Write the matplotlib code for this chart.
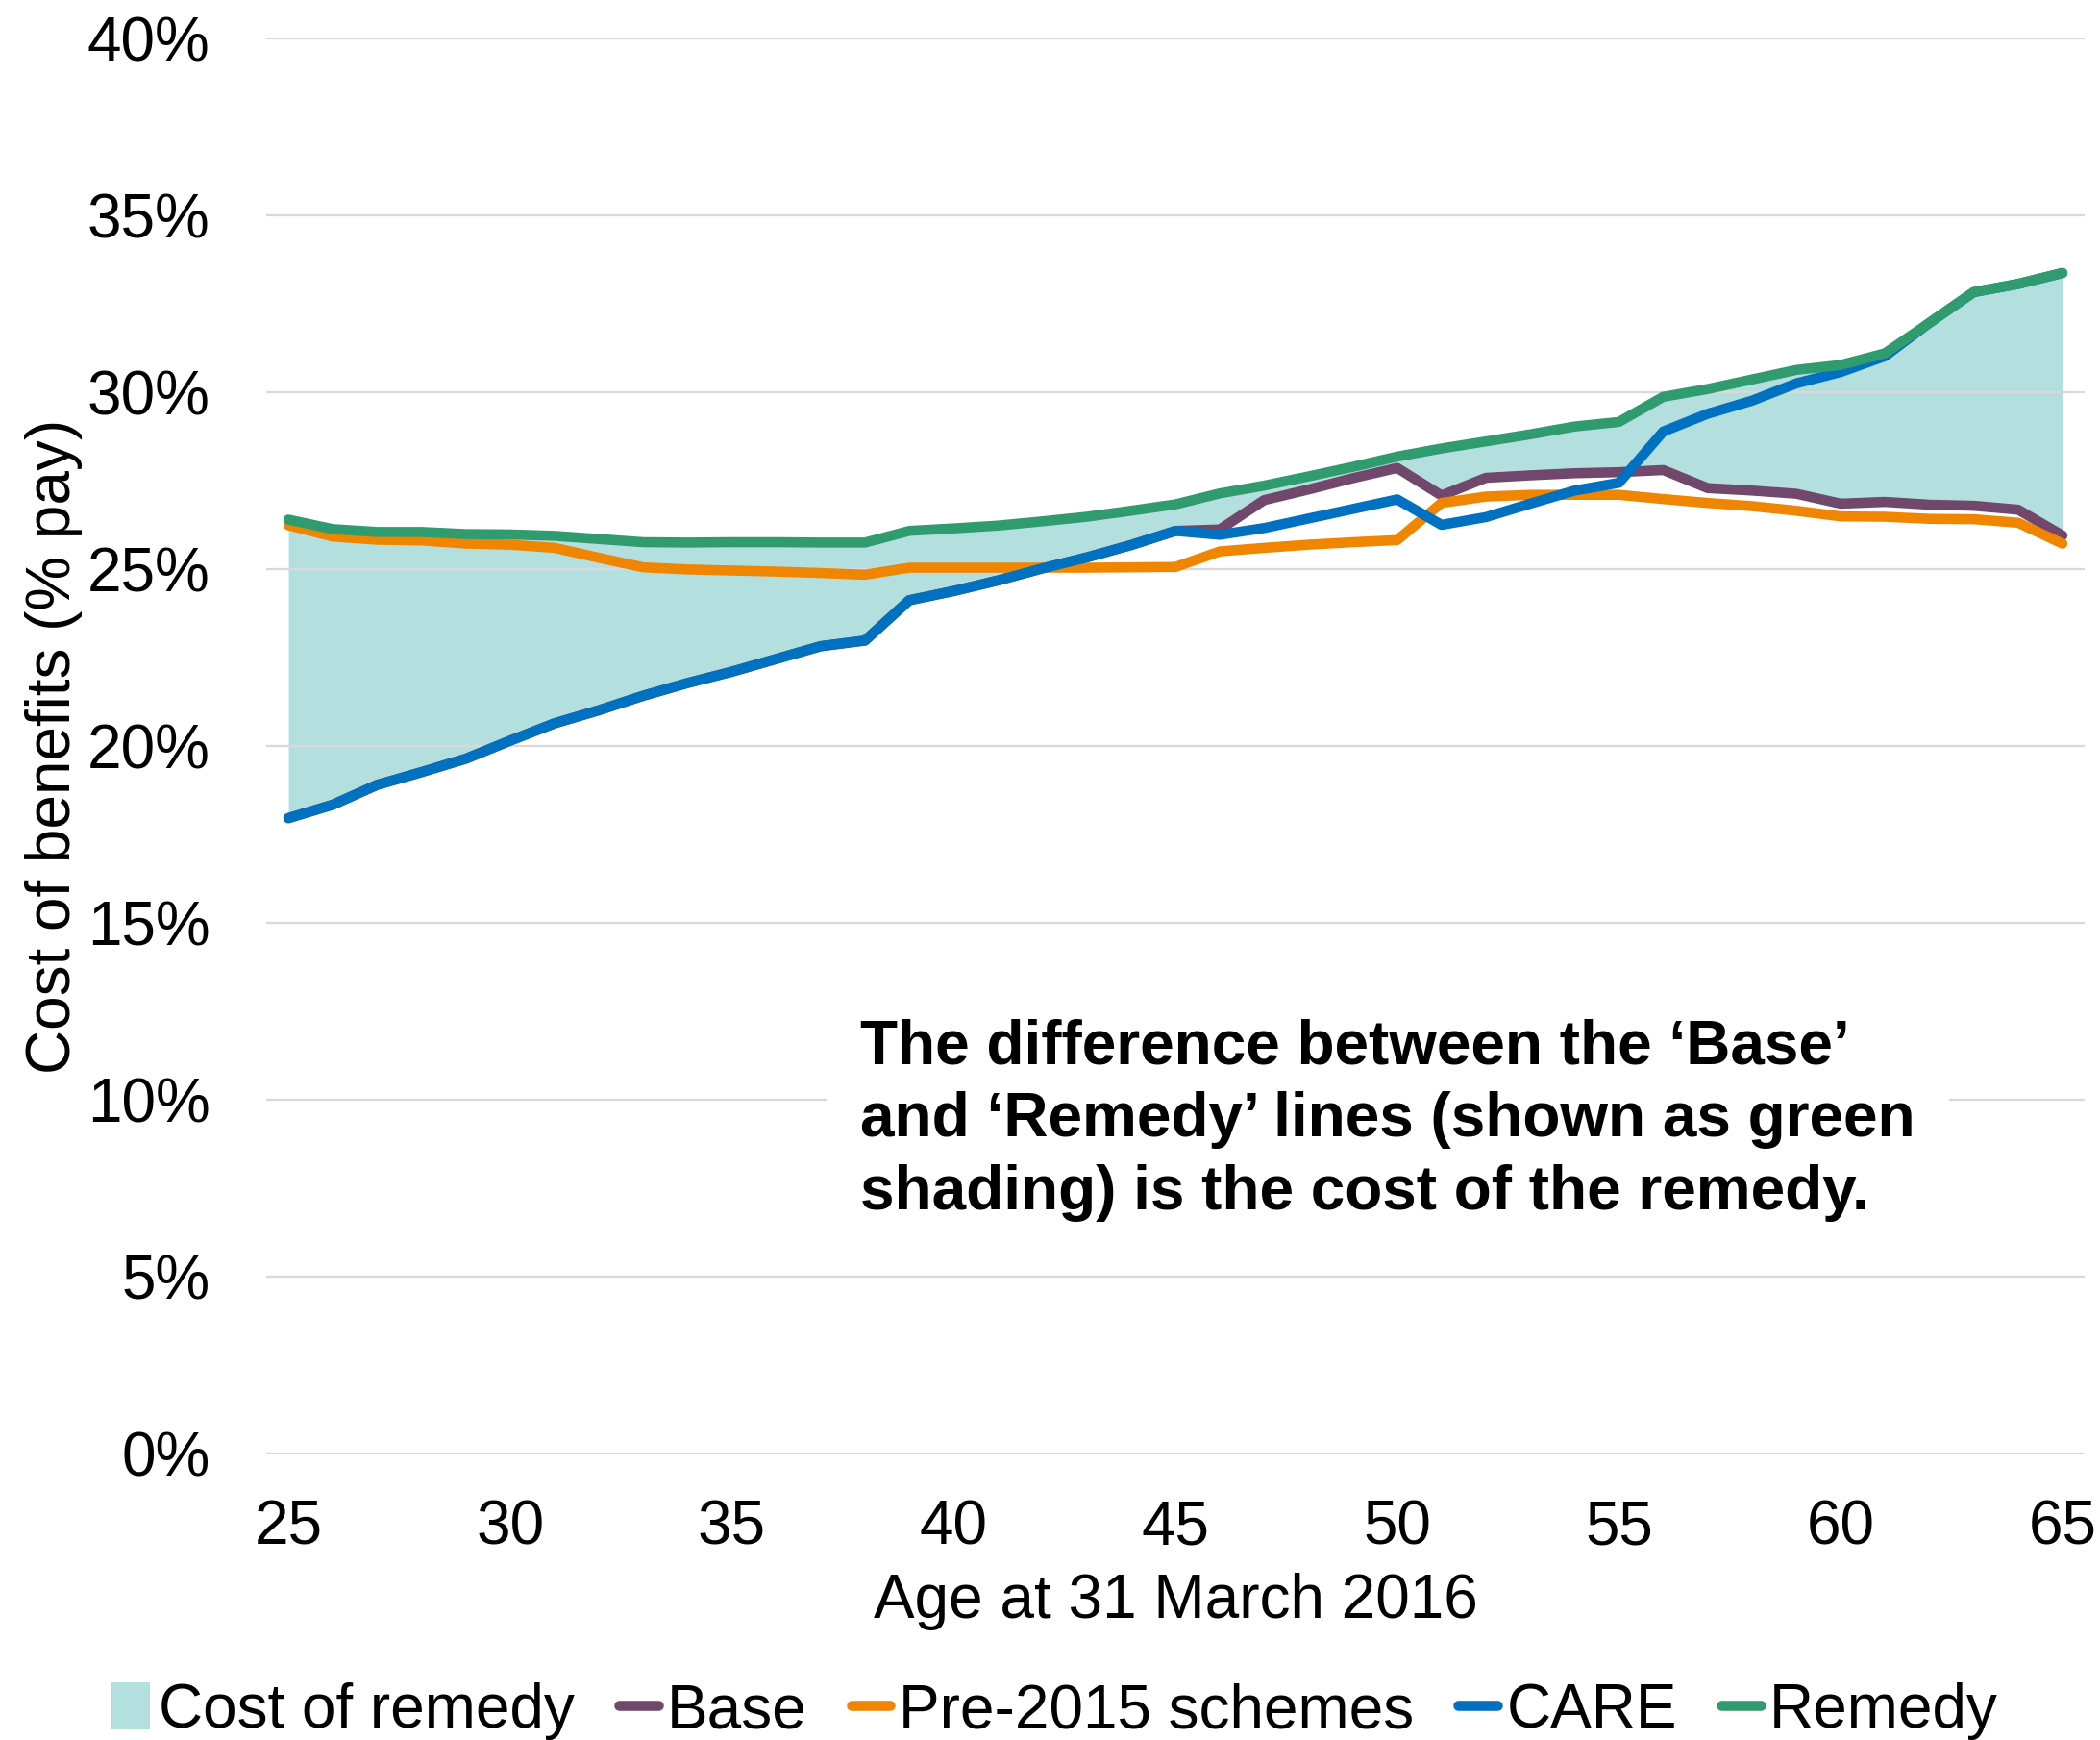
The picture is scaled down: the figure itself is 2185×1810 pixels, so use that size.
import matplotlib
matplotlib.use("Agg")
import matplotlib.pyplot as plt
from matplotlib.patches import Patch
from matplotlib.lines import Line2D

plt.rcParams['font.family'] = ['Liberation Sans', 'DejaVu Sans']

ages = list(range(25, 66))

remedy = [26.40, 26.13, 26.05, 26.05, 25.99, 25.98, 25.94, 25.85, 25.76, 25.75,
          25.76, 25.76, 25.75, 25.75, 26.08, 26.15, 26.23, 26.35, 26.48, 26.65,
          26.83, 27.14, 27.36, 27.62, 27.89, 28.18, 28.41, 28.61, 28.81, 29.03,
          29.16, 29.87, 30.09, 30.36, 30.63, 30.77, 31.10, 31.96, 32.83, 33.06, 33.37]

pre2015 = [26.24, 25.92, 25.83, 25.81, 25.72, 25.69, 25.60, 25.32, 25.05, 24.99,
           24.96, 24.93, 24.89, 24.84, 25.04, 25.04, 25.04, 25.04, 25.04, 25.05,
           25.06, 25.50, 25.60, 25.69, 25.76, 25.82, 26.87, 27.05, 27.10, 27.10,
           27.10, 26.98, 26.87, 26.78, 26.65, 26.49, 26.48, 26.42, 26.41, 26.31, 25.72]

care = [17.96, 18.34, 18.90, 19.26, 19.64, 20.15, 20.64, 21.01, 21.42, 21.78,
        22.10, 22.46, 22.82, 22.98, 24.12, 24.38, 24.68, 25.02, 25.33, 25.68,
        26.08, 25.97, 26.16, 26.43, 26.70, 26.97, 26.25, 26.47, 26.85, 27.22,
        27.44, 28.89, 29.39, 29.76, 30.25, 30.57, 31.02, 31.96, 32.83, 33.06, 33.37]

base = [17.96, 18.34, 18.90, 19.26, 19.64, 20.15, 20.64, 21.01, 21.42, 21.78,
        22.10, 22.46, 22.82, 22.98, 24.12, 24.38, 24.68, 25.02, 25.33, 25.68,
        26.08, 26.12, 26.95, 27.25, 27.57, 27.86, 27.08, 27.58, 27.65, 27.71,
        27.74, 27.80, 27.29, 27.22, 27.13, 26.85, 26.90, 26.82, 26.79, 26.68, 25.95]

x_ticks = [25, 30, 35, 40, 45, 50, 55, 60, 65]
y_ticks = [0, 5, 10, 15, 20, 25, 30, 35, 40]
y_tick_labels = [f"{v}%" for v in y_ticks]

C_FILL = '#B3E0DF'
C_BASE = '#72476C'
C_PRE = '#F08500'
C_CARE = '#0070C0'
C_REM = '#319B70'

FS = 46
LW = 7.6

fig = plt.figure(figsize=(21.85, 18.10), dpi=100)
ax = fig.add_axes([277/2185, 1 - 1512/1810, (2169-277)/2185, (1512-40)/1810])

ax.fill_between(ages, base, remedy, color=C_FILL, linewidth=0, zorder=1)
ax.plot(ages, base, color=C_BASE, lw=LW, solid_capstyle='round', solid_joinstyle='round', zorder=2)
ax.plot(ages, pre2015, color=C_PRE, lw=LW, solid_capstyle='round', solid_joinstyle='round', zorder=2.1)
ax.plot(ages, care, color=C_CARE, lw=LW, solid_capstyle='round', solid_joinstyle='round', zorder=2.2)
ax.plot(ages, remedy, color=C_REM, lw=LW, solid_capstyle='round', solid_joinstyle='round', zorder=2.3)

ax.set_xlim(24.5, 65.5)
ax.set_ylim(0, 40)
ax.set_xticks(x_ticks)
ax.set_xticklabels([str(v) for v in x_ticks])
ax.set_yticks(y_ticks)
ax.set_yticklabels(y_tick_labels)
ax.tick_params(axis='both', length=0, labelsize=FS, colors='black')
ax.tick_params(axis='x', pad=34)
ax.tick_params(axis='y', pad=42)
for s in ax.spines.values():
    s.set_visible(False)
ax.set_axisbelow('line')
ax.yaxis.grid(True, color='#D9D9D9', linewidth=1.6)
ax.xaxis.grid(False)

ax.set_xlabel("Age at 31 March 2016", fontsize=FS)
ax.xaxis.set_label_coords(0.5, -0.084)
ax.set_ylabel("Cost of benefits (% pay)", fontsize=FS)
ax.yaxis.set_label_coords(-0.101, 0.5)

ax.text(37.9, 12.30,
        "The difference between the \u2018Base\u2019\nand \u2018Remedy\u2019 lines (shown as green\nshading) is the cost of the remedy.",
        fontsize=FS, fontweight='bold', ha='left', va='top', linespacing=1.34,
        zorder=5,
        bbox=dict(facecolor='white', edgecolor='none', boxstyle='square,pad=0.55'))

handles = [
    Patch(facecolor=C_FILL, edgecolor='none', label='Cost of remedy'),
    Line2D([0], [0], color=C_BASE, lw=LW, solid_capstyle='round', label='Base'),
    Line2D([0], [0], color=C_PRE, lw=LW, solid_capstyle='round', label='Pre-2015 schemes'),
    Line2D([0], [0], color=C_CARE, lw=LW, solid_capstyle='round', label='CARE'),
    Line2D([0], [0], color=C_REM, lw=LW, solid_capstyle='round', label='Remedy'),
]
fig.legend(handles=handles, loc='center', bbox_to_anchor=(0.502, 0.0165), ncol=5,
           frameon=False, fontsize=FS, handlelength=0.64, handleheight=0.8,
           handletextpad=0.14, columnspacing=0.72, borderpad=0, borderaxespad=0)

fig.savefig("out.png", dpi=100)
